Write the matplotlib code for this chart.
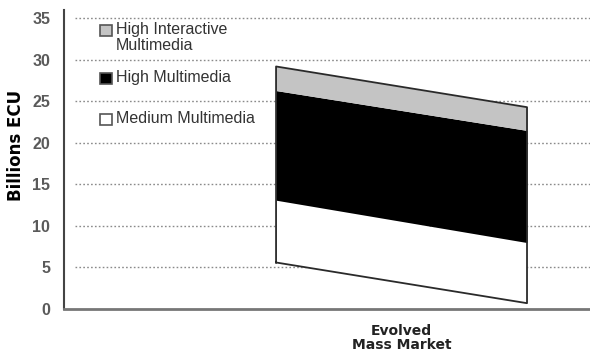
import numpy as np
import matplotlib
matplotlib.use("Agg")
import matplotlib.pyplot as plt
from matplotlib.patches import Rectangle

plt.rcParams['font.family'] = ['Liberation Sans', 'DejaVu Sans']

# two ends of the band (start / end of the period)
x_pos = [0, 1]
base = [5.6, 0.7]
medium = [7.5, 7.3]
high = [13.2, 13.5]
high_interactive = [2.9, 2.8]

series_names = ["High Interactive\nMultimedia", "High Multimedia", "Medium Multimedia"]
series_colors = ["#c4c4c4", "#000000", "#ffffff"]
category = "Evolved\nMass Market"
y_ticks = [0, 5, 10, 15, 20, 25, 30, 35]

W, H = 590, 354
fig = plt.figure(figsize=(W / 100, H / 100), dpi=100)
ax = fig.add_axes([64 / W, 45 / H, 1 - 64 / W, 299 / H])

b = np.array(base)
m_top = b + np.array(medium)
h_top = m_top + np.array(high)
hi_top = h_top + np.array(high_interactive)

ax.set_xlim(-0.845, 1.251)
ax.set_ylim(0, 36)

# dotted gridlines
for yv in y_ticks[1:]:
    ax.hlines(yv, -0.8, 1.251, colors="#8a8a8a", linestyles=(0, (1.2, 1.6)), lw=1.0, zorder=1)

ax.fill_between(x_pos, b, m_top, color=series_colors[2], lw=0, zorder=2)
ax.fill_between(x_pos, m_top, h_top, color=series_colors[1], lw=0, zorder=2)
ax.fill_between(x_pos, h_top, hi_top, color=series_colors[0], lw=0, zorder=2)

# outline of the band
ax.plot([x_pos[0], x_pos[0], x_pos[1], x_pos[1], x_pos[0]],
        [b[0], hi_top[0], hi_top[1], b[1], b[0]],
        color="#2a2a2a", lw=1.3, zorder=3)

ax.set_yticks(y_ticks)
ax.set_yticklabels([str(v) for v in y_ticks], fontsize=11.5, fontweight="bold", color="#5a5a5a")
ax.tick_params(axis="y", length=0, pad=10)
ax.set_xticks([np.mean(x_pos)])
ax.set_xticklabels([category], fontsize=10, fontweight="bold", color="#222222",
                   linespacing=1.0, family="DejaVu Sans")
ax.tick_params(axis="x", length=0, pad=11)

ax.set_ylabel("Billions ECU", fontsize=12, fontweight="bold", family="DejaVu Sans")
ax.yaxis.set_label_coords(-0.074, 0.548)

for s in ["top", "right"]:
    ax.spines[s].set_visible(False)
ax.spines["left"].set_color("#444444")
ax.spines["left"].set_linewidth(1.5)
ax.spines["bottom"].set_color("#777777")
ax.spines["bottom"].set_linewidth(2)

# legend keys, laid out in pixel positions from the top-left
def px(x, y):
    return x / W, 1 - y / H

legend_rows = [25, 73, 114]
for name, color, top in zip(series_names, series_colors, legend_rows):
    x0, y0 = px(100, top + 11)
    fig.patches.append(Rectangle((x0, y0), 12 / W, 11 / H, transform=fig.transFigure,
                                 facecolor=color, edgecolor="#555555", lw=1.2))
    tx, ty = px(116, top - 3)
    fig.text(tx, ty, name, fontsize=11.5, color="#333333", va="top", ha="left",
             linespacing=1.05)

fig.savefig("out.png", dpi=100)
